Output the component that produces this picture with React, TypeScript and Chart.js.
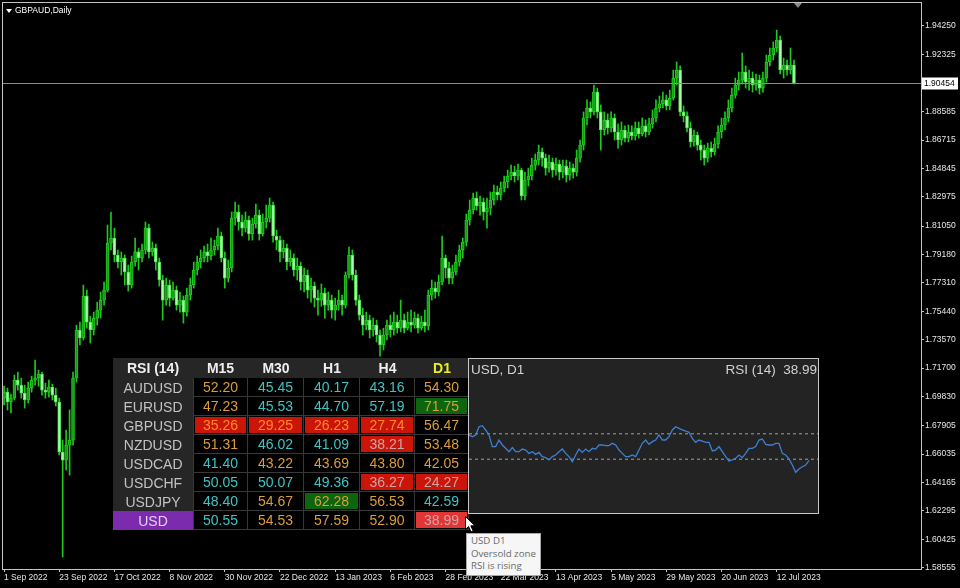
import React, { useEffect, useRef } from 'react';
import { Chart, registerables } from 'chart.js';

Chart.register(...registerables);

// ---------------- main price chart data (GBPAUD, Daily) ----------------
const chartTitle = 'GBPAUD,Daily';

const opens = [
  1.6972, 1.7012, 1.6947, 1.6972, 1.7091, 1.7058, 1.7005, 1.6960, 1.7038, 1.7091,
  1.7104, 1.7131, 1.7025, 1.7012, 1.7045, 1.6992, 1.6947, 1.6617, 1.6564, 1.6663,
  1.6696, 1.7104, 1.7421, 1.7368, 1.7645, 1.7473, 1.7421, 1.7499, 1.7552, 1.7618,
  1.7684, 1.7993, 1.8026, 1.7915, 1.7869, 1.7895, 1.7803, 1.7717, 1.7869, 1.7935,
  1.7895, 1.7948, 1.8092, 1.7935, 1.7960, 1.7869, 1.7750, 1.7618, 1.7717, 1.7631,
  1.7684, 1.7585, 1.7618, 1.7539, 1.7651, 1.7717, 1.7816, 1.7869, 1.7895, 1.7935,
  1.7909, 1.7948, 1.7974, 1.8040, 1.7895, 1.7763, 1.7829, 1.8158, 1.8198, 1.8132,
  1.8092, 1.8145, 1.8053, 1.8119, 1.8178, 1.8053, 1.8132, 1.8158, 1.8244, 1.8040,
  1.8013, 1.7935, 1.7960, 1.7869, 1.7895, 1.7816, 1.7842, 1.7737, 1.7783, 1.7684,
  1.7710, 1.7631, 1.7618, 1.7664, 1.7585, 1.7618, 1.7552, 1.7585, 1.7618, 1.7585,
  1.7783, 1.7915, 1.7783, 1.7618, 1.7519, 1.7453, 1.7486, 1.7421, 1.7453, 1.7388,
  1.7322, 1.7388, 1.7453, 1.7421, 1.7473, 1.7433, 1.7486, 1.7433, 1.7473, 1.7453,
  1.7499, 1.7433, 1.7473, 1.7447, 1.7651, 1.7697, 1.7671, 1.7737, 1.7895, 1.7829,
  1.7763, 1.7803, 1.7869, 1.7948, 1.8000, 1.8145, 1.8211, 1.8290, 1.8238, 1.8264,
  1.8198, 1.8224, 1.8277, 1.8330, 1.8310, 1.8356, 1.8396, 1.8435, 1.8461, 1.8435,
  1.8474, 1.8304, 1.8409, 1.8435, 1.8507, 1.8540, 1.8593, 1.8553, 1.8487, 1.8527,
  1.8474, 1.8514, 1.8461, 1.8501, 1.8441, 1.8487, 1.8461, 1.8553, 1.8639, 1.8817,
  1.8883, 1.8857, 1.8988, 1.8857, 1.8738, 1.8804, 1.8751, 1.8817, 1.8725, 1.8672,
  1.8738, 1.8685, 1.8725, 1.8699, 1.8751, 1.8712, 1.8765, 1.8725, 1.8778, 1.8817,
  1.8883, 1.8910, 1.8936, 1.8897, 1.8948, 1.9080, 1.9133, 1.8857, 1.8831, 1.8751,
  1.8659, 1.8705, 1.8639, 1.8606, 1.8553, 1.8619, 1.8593, 1.8646, 1.8725, 1.8771,
  1.8817, 1.8883, 1.8968, 1.9034, 1.9067, 1.9120, 1.9054, 1.9080, 1.9034, 1.9067,
  1.9014, 1.9080, 1.9186, 1.9232, 1.9278, 1.9331, 1.9133, 1.9166, 1.9133, 1.9166,
];

const highs = [
  1.7051, 1.7038, 1.6999, 1.7124, 1.7144, 1.7104, 1.7058, 1.7078, 1.7117, 1.7223,
  1.7157, 1.7144, 1.7071, 1.7091, 1.7065, 1.7038, 1.6972, 1.6696, 1.6762, 1.6894,
  1.7144, 1.7453, 1.7473, 1.7717, 1.7684, 1.7512, 1.7539, 1.7605, 1.7671, 1.7737,
  1.8112, 1.8198, 1.8092, 1.7948, 1.7935, 1.7915, 1.7849, 1.7908, 1.8026, 1.7960,
  1.7987, 1.8132, 1.8119, 1.8000, 1.7987, 1.7895, 1.7783, 1.7763, 1.7750, 1.7737,
  1.7710, 1.7671, 1.7645, 1.7697, 1.7763, 1.7869, 1.7908, 1.7948, 1.7974, 1.7987,
  1.8026, 1.8013, 1.8092, 1.8066, 1.7935, 1.7882, 1.8198, 1.8264, 1.8244, 1.8178,
  1.8198, 1.8171, 1.8158, 1.8251, 1.8211, 1.8185, 1.8244, 1.8290, 1.8264, 1.8079,
  1.8040, 1.8013, 1.7987, 1.7948, 1.7922, 1.7895, 1.7869, 1.7829, 1.7816, 1.7763,
  1.7737, 1.7684, 1.7724, 1.7697, 1.7671, 1.7651, 1.7631, 1.7684, 1.7651, 1.7803,
  1.7967, 1.7948, 1.7816, 1.7651, 1.7565, 1.7539, 1.7519, 1.7499, 1.7486, 1.7421,
  1.7433, 1.7486, 1.7519, 1.7539, 1.7519, 1.7618, 1.7526, 1.7539, 1.7552, 1.7539,
  1.7526, 1.7512, 1.7552, 1.7684, 1.7750, 1.7737, 1.7783, 1.8040, 1.7915, 1.7869,
  1.7849, 1.7915, 1.7980, 1.8026, 1.8185, 1.8277, 1.8323, 1.8330, 1.8303, 1.8290,
  1.8290, 1.8330, 1.8376, 1.8369, 1.8396, 1.8435, 1.8474, 1.8507, 1.8500, 1.8514,
  1.8487, 1.8461, 1.8487, 1.8553, 1.8580, 1.8639, 1.8619, 1.8580, 1.8573, 1.8553,
  1.8553, 1.8540, 1.8540, 1.8540, 1.8527, 1.8514, 1.8606, 1.8672, 1.8857, 1.8936,
  1.8923, 1.9034, 1.9014, 1.8903, 1.8857, 1.8844, 1.8857, 1.8844, 1.8778, 1.8791,
  1.8765, 1.8771, 1.8765, 1.8791, 1.8791, 1.8817, 1.8804, 1.8817, 1.8870, 1.8936,
  1.8962, 1.8988, 1.8968, 1.9001, 1.9133, 1.9186, 1.9160, 1.8896, 1.8857, 1.8791,
  1.8738, 1.8725, 1.8672, 1.8639, 1.8652, 1.8659, 1.8685, 1.8765, 1.8817, 1.8857,
  1.8936, 1.9014, 1.9080, 1.9120, 1.9245, 1.9160, 1.9133, 1.9120, 1.9107, 1.9100,
  1.9120, 1.9232, 1.9278, 1.9318, 1.9396, 1.9356, 1.9212, 1.9199, 1.9278, 1.9199,
];

const lows = [
  1.6927, 1.6894, 1.6874, 1.6960, 1.7025, 1.6972, 1.6907, 1.6940, 1.7012, 1.7058,
  1.7051, 1.6992, 1.6972, 1.6979, 1.6960, 1.6920, 1.6597, 1.5926, 1.6498, 1.6465,
  1.6663, 1.7078, 1.7322, 1.7355, 1.7433, 1.7335, 1.7388, 1.7453, 1.7499, 1.7585,
  1.7671, 1.7948, 1.7869, 1.7829, 1.7783, 1.7717, 1.7677, 1.7697, 1.7842, 1.7816,
  1.7869, 1.7922, 1.7895, 1.7908, 1.7816, 1.7710, 1.7486, 1.7585, 1.7578, 1.7618,
  1.7552, 1.7539, 1.7466, 1.7512, 1.7618, 1.7697, 1.7783, 1.7829, 1.7869, 1.7869,
  1.7882, 1.7915, 1.7948, 1.7869, 1.7697, 1.7737, 1.7803, 1.8112, 1.8079, 1.8040,
  1.8066, 1.8013, 1.8013, 1.8092, 1.8013, 1.8040, 1.8092, 1.8132, 1.8000, 1.7948,
  1.7869, 1.7895, 1.7816, 1.7842, 1.7776, 1.7750, 1.7684, 1.7671, 1.7631, 1.7605,
  1.7572, 1.7519, 1.7578, 1.7499, 1.7552, 1.7499, 1.7486, 1.7552, 1.7519, 1.7565,
  1.7763, 1.7750, 1.7585, 1.7486, 1.7388, 1.7421, 1.7368, 1.7381, 1.7342, 1.7249,
  1.7289, 1.7355, 1.7375, 1.7388, 1.7401, 1.7408, 1.7401, 1.7421, 1.7408, 1.7433,
  1.7401, 1.7421, 1.7408, 1.7421, 1.7618, 1.7631, 1.7645, 1.7717, 1.7763, 1.7724,
  1.7724, 1.7783, 1.7842, 1.7895, 1.7974, 1.8112, 1.8185, 1.8211, 1.8178, 1.8145,
  1.8092, 1.8178, 1.8244, 1.8277, 1.8277, 1.8330, 1.8356, 1.8409, 1.8396, 1.8409,
  1.8277, 1.8277, 1.8369, 1.8409, 1.8474, 1.8507, 1.8500, 1.8441, 1.8461, 1.8428,
  1.8441, 1.8409, 1.8422, 1.8396, 1.8409, 1.8422, 1.8435, 1.8527, 1.8606, 1.8771,
  1.8817, 1.8837, 1.8817, 1.8606, 1.8705, 1.8712, 1.8725, 1.8672, 1.8619, 1.8639,
  1.8659, 1.8659, 1.8672, 1.8672, 1.8685, 1.8699, 1.8692, 1.8705, 1.8751, 1.8791,
  1.8857, 1.8883, 1.8870, 1.8870, 1.8936, 1.9034, 1.8831, 1.8791, 1.8725, 1.8626,
  1.8632, 1.8606, 1.8540, 1.8507, 1.8527, 1.8560, 1.8573, 1.8619, 1.8685, 1.8738,
  1.8791, 1.8857, 1.8948, 1.9001, 1.9041, 1.9014, 1.9001, 1.8988, 1.9001, 1.8975,
  1.8988, 1.9054, 1.9160, 1.9199, 1.9252, 1.9107, 1.9080, 1.9100, 1.9107, 1.9041,
];

const closes = [
  1.7012, 1.6947, 1.6972, 1.7091, 1.7058, 1.7005, 1.6960, 1.7038, 1.7091, 1.7104,
  1.7131, 1.7025, 1.7012, 1.7045, 1.6992, 1.6947, 1.6617, 1.6564, 1.6663, 1.6696,
  1.7104, 1.7421, 1.7368, 1.7645, 1.7473, 1.7421, 1.7499, 1.7552, 1.7618, 1.7684,
  1.7993, 1.8026, 1.7915, 1.7869, 1.7895, 1.7803, 1.7717, 1.7869, 1.7935, 1.7895,
  1.7948, 1.8092, 1.7935, 1.7960, 1.7869, 1.7750, 1.7618, 1.7717, 1.7631, 1.7684,
  1.7585, 1.7618, 1.7539, 1.7651, 1.7717, 1.7816, 1.7869, 1.7895, 1.7935, 1.7909,
  1.7948, 1.7974, 1.8040, 1.7895, 1.7763, 1.7829, 1.8158, 1.8198, 1.8132, 1.8092,
  1.8145, 1.8053, 1.8119, 1.8178, 1.8053, 1.8132, 1.8158, 1.8244, 1.8040, 1.8013,
  1.7935, 1.7960, 1.7869, 1.7895, 1.7816, 1.7842, 1.7737, 1.7783, 1.7684, 1.7710,
  1.7631, 1.7618, 1.7664, 1.7585, 1.7618, 1.7552, 1.7585, 1.7618, 1.7585, 1.7783,
  1.7915, 1.7783, 1.7618, 1.7519, 1.7453, 1.7486, 1.7421, 1.7453, 1.7388, 1.7322,
  1.7388, 1.7453, 1.7421, 1.7473, 1.7433, 1.7486, 1.7433, 1.7473, 1.7453, 1.7499,
  1.7433, 1.7473, 1.7447, 1.7651, 1.7697, 1.7671, 1.7737, 1.7895, 1.7829, 1.7763,
  1.7803, 1.7869, 1.7948, 1.8000, 1.8145, 1.8211, 1.8290, 1.8238, 1.8264, 1.8198,
  1.8224, 1.8277, 1.8330, 1.8310, 1.8356, 1.8396, 1.8435, 1.8461, 1.8435, 1.8474,
  1.8304, 1.8409, 1.8435, 1.8507, 1.8540, 1.8593, 1.8553, 1.8487, 1.8527, 1.8474,
  1.8514, 1.8461, 1.8501, 1.8441, 1.8487, 1.8461, 1.8553, 1.8639, 1.8817, 1.8883,
  1.8857, 1.8988, 1.8857, 1.8738, 1.8804, 1.8751, 1.8817, 1.8725, 1.8672, 1.8738,
  1.8685, 1.8725, 1.8699, 1.8751, 1.8712, 1.8765, 1.8725, 1.8778, 1.8817, 1.8883,
  1.8910, 1.8936, 1.8897, 1.8948, 1.9080, 1.9133, 1.8857, 1.8831, 1.8751, 1.8659,
  1.8705, 1.8639, 1.8606, 1.8553, 1.8619, 1.8593, 1.8646, 1.8725, 1.8771, 1.8817,
  1.8883, 1.8968, 1.9034, 1.9067, 1.9120, 1.9054, 1.9080, 1.9034, 1.9067, 1.9014,
  1.9080, 1.9186, 1.9232, 1.9278, 1.9331, 1.9133, 1.9166, 1.9133, 1.9166, 1.90454,
];

const dateTickIndex = [0, 16, 32, 48, 64, 80, 96, 112, 128, 144, 160, 176, 192, 208, 224];
const dateTickLabels = [
  '1 Sep 2022', '23 Sep 2022', '17 Oct 2022', '8 Nov 2022', '30 Nov 2022',
  '22 Dec 2022', '13 Jan 2023', '6 Feb 2023', '28 Feb 2023', '22 Mar 2023',
  '13 Apr 2023', '5 May 2023', '29 May 2023', '20 Jun 2023', '12 Jul 2023',
];
const priceTicks = [
  1.9425, 1.92325, 1.88585, 1.86715, 1.84845, 1.82975, 1.8105, 1.7918, 1.7731, 1.7544,
  1.7357, 1.717, 1.6983, 1.67905, 1.66035, 1.64165, 1.62295, 1.60425, 1.58555,
];
const priceMin = 1.58469;
const priceMax = 1.95745;
const indexMin = -0.3;
const indexMax = 265.83;

// ---------------- RSI table data ----------------
const tableTitle = 'RSI (14)';
const timeframes = ['M15', 'M30', 'H1', 'H4', 'D1'];
const selectedTimeframe = 'D1';
const pairs = ['AUDUSD', 'EURUSD', 'GBPUSD', 'NZDUSD', 'USDCAD', 'USDCHF', 'USDJPY', 'USD'];
const selectedPair = 'USD';
const rsiAUDUSD = [52.2, 45.45, 40.17, 43.16, 54.3];
const rsiEURUSD = [47.23, 45.53, 44.7, 57.19, 71.75];
const rsiGBPUSD = [35.26, 29.25, 26.23, 27.74, 56.47];
const rsiNZDUSD = [51.31, 46.02, 41.09, 38.21, 53.48];
const rsiUSDCAD = [41.4, 43.22, 43.69, 43.8, 42.05];
const rsiUSDCHF = [50.05, 50.07, 49.36, 36.27, 24.27];
const rsiUSDJPY = [48.4, 54.67, 62.28, 56.53, 42.59];
const rsiUSD = [50.55, 54.53, 57.59, 52.9, 38.99];
// text colour codes: o = orange (rising), c = cyan (falling), r = orange on red, g = grey on red
const textAUDUSD = ['o', 'c', 'c', 'c', 'o'];
const textEURUSD = ['o', 'c', 'c', 'c', 'o'];
const textGBPUSD = ['r', 'r', 'r', 'r', 'o'];
const textNZDUSD = ['o', 'c', 'c', 'g', 'o'];
const textUSDCAD = ['c', 'o', 'o', 'o', 'o'];
const textUSDCHF = ['c', 'c', 'c', 'g', 'g'];
const textUSDJPY = ['c', 'o', 'o', 'o', 'c'];
const textUSD = ['c', 'o', 'o', 'o', 'g'];
// cell background codes: '' none, R red, G green, L light red (selected)
const bgAUDUSD = ['', '', '', '', ''];
const bgEURUSD = ['', '', '', '', 'G'];
const bgGBPUSD = ['R', 'R', 'R', 'R', ''];
const bgNZDUSD = ['', '', '', 'R', ''];
const bgUSDCAD = ['', '', '', '', ''];
const bgUSDCHF = ['', '', '', 'R', 'R'];
const bgUSDJPY = ['', '', 'G', '', ''];
const bgUSD = ['', '', '', '', 'L'];

// ---------------- USD D1 RSI panel ----------------
const panelTitle = 'USD, D1';
const panelIndicator = 'RSI (14)';
const usdD1Rsi = [
  59.1, 57.7, 59.1, 65.6, 66.4, 63.0, 59.1, 49.9, 49.9, 55.1,
  51.2, 48.6, 45.9, 49.1, 45.9, 45.9, 48.0, 47.2, 44.6, 45.9,
  43.8, 45.4, 42.0, 41.2, 39.4, 42.0, 43.3, 45.9, 48.0, 44.6,
  42.0, 38.1, 43.3, 48.0, 45.4, 48.0, 45.9, 48.6, 48.0, 51.2,
  51.2, 50.7, 50.7, 52.5, 51.2, 47.2, 44.6, 42.0, 42.0, 43.3,
  42.0, 47.2, 52.5, 55.1, 51.7, 53.8, 55.1, 59.1, 55.1, 55.1,
  57.7, 63.0, 65.6, 64.3, 63.0, 62.2, 61.2, 56.4, 53.3, 55.1,
  54.3, 53.3, 53.3, 46.5, 47.2, 49.9, 45.9, 42.0, 38.6, 39.4,
  40.7, 43.3, 41.2, 44.6, 48.6, 48.6, 49.9, 55.1, 55.9, 51.7,
  51.2, 51.2, 52.5, 52.5, 44.6, 43.3, 40.2, 35.4, 29.7, 32.3,
  34.1, 35.4, 38.99,
];
const rsiLevels = [60, 40];
const rsiIndexMax = 104.7;

const tooltipLines = ['USD D1', 'Oversold zone', 'RSI is rising'];

// ---------------- styles ----------------
const AXIS = '#c4c4c4';
const TEXT = '#e6e6e6';
const WICK = '#1ec81e';
const BULL_FILL = '#179a17';
const BULL_BORDER = '#22cc22';
const BEAR_FILL = '#a8ffa8';
const BEAR_BORDER = '#52e052';
const FONT = '"Liberation Sans", Arial, sans-serif';

const textColors: Record<string, string> = { o: '#dc9c38', c: '#3ec4c4', r: '#ff8a2c', g: '#c9a6a6' };
const bgColors: Record<string, string> = { '': 'transparent', R: '#cc1509', G: '#0d650d', L: '#e23636' };

const rowValues = [rsiAUDUSD, rsiEURUSD, rsiGBPUSD, rsiNZDUSD, rsiUSDCAD, rsiUSDCHF, rsiUSDJPY, rsiUSD];
const rowText = [textAUDUSD, textEURUSD, textGBPUSD, textNZDUSD, textUSDCAD, textUSDCHF, textUSDJPY, textUSD];
const rowBg = [bgAUDUSD, bgEURUSD, bgGBPUSD, bgNZDUSD, bgUSDCAD, bgUSDCHF, bgUSDJPY, bgUSD];
const colWidths = [80, 55, 56, 56, 55, 54];

const overlayPlugin = {
  id: 'mtOverlay',
  afterDatasetsDraw(chart: any) {
    const { ctx, chartArea, scales } = chart;
    const last = closes[closes.length - 1];
    const y = Math.round(scales.y.getPixelForValue(last)) + 0.5;
    ctx.save();
    // current price line
    ctx.strokeStyle = '#8c8c8c';
    ctx.lineWidth = 1;
    ctx.beginPath();
    ctx.moveTo(chartArea.left, y);
    ctx.lineTo(chartArea.right, y);
    ctx.stroke();
    // frame
    ctx.strokeStyle = AXIS;
    ctx.strokeRect(chartArea.left - 0.5, chartArea.top - 0.5, chartArea.right - chartArea.left + 1, chartArea.bottom - chartArea.top + 1);
    // price label
    ctx.fillStyle = '#ffffff';
    ctx.fillRect(chartArea.right + 1, y - 6, 36, 12);
    ctx.fillStyle = '#000000';
    ctx.font = `8.5px ${FONT}`;
    ctx.textBaseline = 'middle';
    ctx.textAlign = 'left';
    ctx.fillText(last.toFixed(5), chartArea.right + 3, y);
    // chart shift marker
    const sx = scales.x.getPixelForValue(closes.length - 1) + 4;
    ctx.fillStyle = '#8a8a8a';
    ctx.beginPath();
    ctx.moveTo(sx - 4, chartArea.top);
    ctx.lineTo(sx + 4, chartArea.top);
    ctx.lineTo(sx, chartArea.top + 5);
    ctx.closePath();
    ctx.fill();
    ctx.restore();
  },
};

export default function App() {
  const mainRef = useRef<HTMLCanvasElement>(null);
  const rsiRef = useRef<HTMLCanvasElement>(null);

  useEffect(() => {
    document.body.style.margin = '0';
    document.body.style.background = '#000';
    const idx = closes.map((_, i) => i);
    const bull = (i: number) => closes[i] >= opens[i];

    const main = new Chart(mainRef.current as HTMLCanvasElement, {
      type: 'bar',
      data: {
        datasets: [
          {
            label: 'wick',
            data: idx.map((i) => ({ x: i, y: [lows[i], highs[i]] })) as any,
            backgroundColor: WICK,
            barThickness: 1,
            grouped: false,
            order: 2,
          } as any,
          {
            label: 'body',
            data: idx.map((i) => ({ x: i, y: [opens[i], closes[i]] })) as any,
            backgroundColor: (c: any) => (bull(c.dataIndex) ? BULL_FILL : BEAR_FILL),
            borderColor: (c: any) => (bull(c.dataIndex) ? BULL_BORDER : BEAR_BORDER),
            borderWidth: 1,
            borderSkipped: false,
            barThickness: 3,
            minBarLength: 1,
            grouped: false,
            order: 1,
          } as any,
        ],
      },
      options: {
        animation: false,
        responsive: false,
        devicePixelRatio: 1,
        layout: { padding: { left: 3, top: 3, right: 0, bottom: 0 } },
        plugins: { legend: { display: false }, tooltip: { enabled: false }, title: { display: false } },
        scales: {
          x: {
            type: 'linear',
            min: indexMin,
            max: indexMax,
            offset: false,
            grid: { display: true, offset: false, drawOnChartArea: false, drawTicks: true, tickLength: 3, color: AXIS },
            border: { display: true, color: AXIS },
            ticks: {
              autoSkip: false,
              maxRotation: 0,
              minRotation: 0,
              align: 'start',
              padding: 1,
              color: TEXT,
              font: { family: FONT, size: 8.5 },
              callback: (_v: any, i: number) => dateTickLabels[i] ?? '',
            },
            afterBuildTicks: (s: any) => {
              s.ticks = dateTickIndex.map((v) => ({ value: v }));
            },
            afterFit: (s: any) => {
              s.height = 19;
              s.paddingLeft = 0;
              s.paddingRight = 0;
            },
          } as any,
          y: {
            type: 'linear',
            position: 'right',
            min: priceMin,
            max: priceMax,
            grid: { display: true, drawOnChartArea: false, drawTicks: true, tickLength: 3, color: AXIS },
            border: { display: true, color: AXIS },
            ticks: {
              autoSkip: false,
              padding: 1,
              color: TEXT,
              font: { family: FONT, size: 8.5 },
              callback: (v: any) => Number(v).toFixed(5),
            },
            afterBuildTicks: (s: any) => {
              s.ticks = priceTicks.map((v) => ({ value: v }));
            },
            afterFit: (s: any) => {
              s.width = 39;
              s.paddingTop = 0;
              s.paddingBottom = 0;
            },
          } as any,
        },
      },
      plugins: [overlayPlugin],
    });

    const rsi = new Chart(rsiRef.current as HTMLCanvasElement, {
      type: 'line',
      data: {
        datasets: [
          {
            label: 'RSI',
            data: usdD1Rsi.map((v, i) => ({ x: i, y: v })),
            borderColor: '#3d80d4',
            borderWidth: 1.3,
            pointRadius: 0,
            tension: 0,
          },
          ...rsiLevels.map((lv) => ({
            label: 'level ' + lv,
            data: [
              { x: 0, y: lv },
              { x: rsiIndexMax, y: lv },
            ],
            borderColor: '#a0a0a0',
            borderWidth: 1,
            borderDash: [3, 3],
            pointRadius: 0,
          })),
        ],
      },
      options: {
        animation: false,
        responsive: false,
        devicePixelRatio: 1,
        layout: { padding: { left: 0, right: 0, top: 24, bottom: 3 } },
        plugins: { legend: { display: false }, tooltip: { enabled: false } },
        scales: {
          x: { type: 'linear', min: 0, max: rsiIndexMax, display: false },
          y: { type: 'linear', min: 0, max: 100, display: false },
        },
      },
    });

    return () => {
      main.destroy();
      rsi.destroy();
    };
  }, []);

  const headerCell: React.CSSProperties = {
    background: '#262626',
    color: '#eeeeee',
    fontWeight: 'bold',
    display: 'flex',
    alignItems: 'center',
    justifyContent: 'center',
  };

  return (
    <div style={{ position: 'relative', width: 960, height: 588, background: '#000', overflow: 'hidden', fontFamily: FONT }}>
      <canvas ref={mainRef} width={960} height={588} style={{ position: 'absolute', left: 0, top: 0, width: 960, height: 588 }} />

      {/* chart title */}
      <div style={{ position: 'absolute', left: 6, top: 9, width: 0, height: 0, borderLeft: '3px solid transparent', borderRight: '3px solid transparent', borderTop: '4px solid #ffffff' }} />
      <div style={{ position: 'absolute', left: 15, top: 5, color: '#ffffff', fontSize: 8.5, lineHeight: '10px', whiteSpace: 'nowrap' }}>{chartTitle}</div>

      {/* RSI table */}
      <div
        style={{
          position: 'absolute',
          left: 113,
          top: 358,
          display: 'grid',
          gridTemplateColumns: colWidths.map((w) => w + 'px').join(' '),
          gridTemplateRows: '20px repeat(8, 19px)',
          fontSize: 14,
          fontFamily: FONT,
        }}
      >
        <div style={headerCell}>{tableTitle}</div>
        {timeframes.map((tf) => (
          <div key={tf} style={{ ...headerCell, color: tf === selectedTimeframe ? '#ecec20' : '#eeeeee' }}>
            {tf}
          </div>
        ))}
        {pairs.map((p, r) => (
          <React.Fragment key={p}>
            <div
              style={{
                background: p === selectedPair ? '#7b2cae' : '#262626',
                color: p === selectedPair ? '#e2d0f2' : '#c2c2c2',
                display: 'flex',
                alignItems: 'center',
                justifyContent: 'center',
              }}
            >
              {p}
            </div>
            {rowValues[r].map((v, c) => (
              <div
                key={c}
                style={{
                  boxSizing: 'border-box',
                  background: '#000',
                  borderRight: '1px solid #383838',
                  borderBottom: '1px solid #383838',
                  borderLeft: c === 0 ? '1px solid #383838' : 'none',
                  padding: 1,
                }}
              >
                <div
                  style={{
                    width: '100%',
                    height: '100%',
                    background: bgColors[rowBg[r][c]],
                    color: textColors[rowText[r][c]],
                    display: 'flex',
                    alignItems: 'center',
                    justifyContent: 'center',
                  }}
                >
                  {v.toFixed(2)}
                </div>
              </div>
            ))}
          </React.Fragment>
        ))}
      </div>

      {/* RSI panel */}
      <div
        style={{
          position: 'absolute',
          left: 468,
          top: 358,
          width: 351,
          height: 156,
          boxSizing: 'border-box',
          border: '1px solid #c8c8c8',
          background: '#232323',
        }}
      >
        <canvas ref={rsiRef} width={349} height={154} style={{ position: 'absolute', left: 0, top: 0, width: 349, height: 154 }} />
        <div style={{ position: 'absolute', left: 2, top: 3, color: '#d2d2d2', fontSize: 13.5, lineHeight: '16px' }}>{panelTitle}</div>
        <div style={{ position: 'absolute', right: 1, top: 3, color: '#d2d2d2', fontSize: 13.5, lineHeight: '16px', whiteSpace: 'pre' }}>
          {panelIndicator + '  ' + usdD1Rsi[usdD1Rsi.length - 1].toFixed(2)}
        </div>
      </div>

      {/* hover tooltip */}
      <div
        style={{
          position: 'absolute',
          left: 466,
          top: 533,
          width: 75,
          boxSizing: 'border-box',
          padding: '1px 3px 2px 4px',
          background: '#f6f6f6',
          border: '1px solid #a8a8a8',
          color: '#6a6a6a',
          fontFamily: '"Open Sans", "Noto Sans", sans-serif',
          fontSize: 9.7,
          lineHeight: '12.7px',
          whiteSpace: 'nowrap',
        }}
      >
        {tooltipLines.map((l) => (
          <div key={l}>{l}</div>
        ))}
      </div>

      {/* mouse cursor */}
      <svg style={{ position: 'absolute', left: 465, top: 516 }} width={12} height={18} viewBox="0 0 12 18">
        <path d="M0.5 0.5 L0.5 13.5 L3.6 10.6 L6 16 L8.2 15 L5.8 9.8 L10 9.8 Z" fill="#ffffff" stroke="#000000" strokeWidth={1} />
      </svg>
    </div>
  );
}
